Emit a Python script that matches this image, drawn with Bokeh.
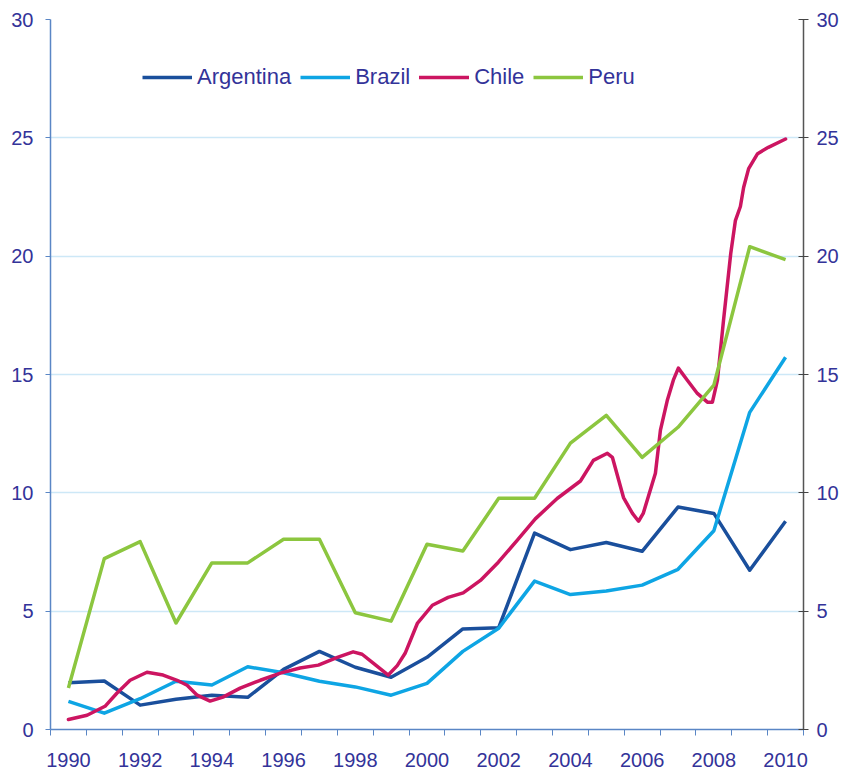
from bokeh.plotting import figure
from bokeh.models import (Range1d, LinearAxis, FixedTicker, Legend, LegendItem)
from bokeh.embed import file_html
from bokeh.resources import INLINE

# ---- data ----
years = list(range(1990, 2011))
argentina = [1.98, 2.05, 1.03, 1.28, 1.45, 1.36, 2.54, 3.30, 2.63, 2.21, 3.05, 4.25,
             4.30, 8.30, 7.60, 7.90, 7.53, 9.40, 9.13, 6.73, 8.80]
brazil = [1.19, 0.69, 1.30, 2.04, 1.88, 2.65, 2.40, 2.04, 1.80, 1.45, 1.95, 3.30,
          4.28, 6.27, 5.70, 5.85, 6.10, 6.77, 8.40, 13.40, 15.73]
peru = [1.75, 7.22, 7.94, 4.50, 7.04, 7.04, 8.04, 8.04, 4.93, 4.58, 7.83, 7.54,
        9.77, 9.77, 12.10, 13.27, 11.50, 12.77, 14.55, 20.40, 19.85]
chile_x = [1990.0, 1990.52, 1991.02, 1991.35, 1991.72, 1992.19, 1992.64, 1993.03,
           1993.31, 1993.59, 1993.95, 1994.31, 1994.79, 1995.35, 1995.91, 1996.46,
           1996.97, 1997.5, 1997.94, 1998.19, 1998.5, 1998.92, 1999.17, 1999.39,
           1999.73, 2000.15, 2000.59, 2001.01, 2001.49, 2001.99, 2002.52, 2003.02,
           2003.63, 2004.28, 2004.64, 2005.03, 2005.17, 2005.48, 2005.73, 2005.9,
           2006.03, 2006.37, 2006.51, 2006.7, 2006.87, 2007.01, 2007.26, 2007.54,
           2007.82, 2007.96, 2008.1, 2008.27, 2008.47, 2008.6, 2008.74, 2008.83,
           2008.97, 2009.22, 2009.52, 2010.0]
chile_y = [0.42, 0.60, 0.98, 1.53, 2.08, 2.42, 2.30, 2.08,
           1.87, 1.45, 1.20, 1.37, 1.75, 2.08, 2.38, 2.60,
           2.72, 3.05, 3.28, 3.18, 2.80, 2.30, 2.70, 3.22,
           4.48, 5.25, 5.58, 5.77, 6.30, 7.07, 8.00, 8.90,
           9.76, 10.50, 11.37, 11.67, 11.50, 9.80, 9.13, 8.80,
           9.13, 10.83, 12.65, 13.90, 14.76, 15.27, 14.76, 14.20,
           13.83, 13.83, 14.76, 17.30, 20.10, 21.50, 22.10, 22.90,
           23.70, 24.33, 24.60, 24.95]
series_names = ["Argentina", "Brazil", "Chile", "Peru"]
colors = ["#1a4f9c", "#0ea5e4", "#cc1561", "#8cc63f"]
x_tick_labels = list(range(1990, 2011, 2))
y_ticks = [0, 5, 10, 15, 20, 25, 30]

FONT = "Liberation Sans"
TXT = "#333399"
AXC = "#5a86c5"

p = figure(width=841, height=769, output_backend="svg", toolbar_location=None,
           x_range=Range1d(1989.5, 2010.5), y_range=Range1d(0, 30),
           y_axis_location="left", min_border_left=50, min_border_top=19,
           min_border_right=10, min_border_bottom=10)
p.outline_line_color = None
p.background_fill_color = "white"
p.border_fill_color = "white"

# x axis
xa = p.xaxis[0]
xa.ticker = FixedTicker(ticks=x_tick_labels,
                        minor_ticks=[y + 0.5 for y in range(1989, 2011)])
xa.major_tick_line_color = None
xa.minor_tick_line_color = AXC
xa.minor_tick_out = 6
xa.minor_tick_in = 0
xa.axis_line_color = AXC
xa.axis_line_width = 1.5
xa.major_label_text_font = FONT
xa.major_label_text_font_size = "20px"
xa.major_label_text_color = TXT
xa.major_label_standoff = 17

# left y axis
ya = p.yaxis[0]
ya.ticker = FixedTicker(ticks=y_ticks)
ya.axis_line_color = AXC
ya.axis_line_width = 1.5
ya.major_tick_line_color = AXC
ya.major_tick_out = 5
ya.major_tick_in = 0
ya.minor_tick_line_color = None
ya.major_label_text_font = FONT
ya.major_label_text_font_size = "20px"
ya.major_label_text_color = TXT
ya.major_label_standoff = 12

# right y axis
ra = LinearAxis(ticker=FixedTicker(ticks=y_ticks))
ra.axis_line_color = "#555555"
ra.axis_line_width = 1.5
ra.major_tick_line_color = "#444444"
ra.major_tick_out = 5
ra.major_tick_in = 5
ra.minor_tick_line_color = None
ra.major_label_text_font = FONT
ra.major_label_text_font_size = "20px"
ra.major_label_text_color = TXT
ra.major_label_standoff = 8
p.add_layout(ra, "right")

p.xgrid.grid_line_color = None
p.ygrid.ticker = FixedTicker(ticks=y_ticks)
p.ygrid.grid_line_color = "#cde8f7"
p.ygrid.grid_line_width = 1.5

lw = 3.5
r_arg = p.line(years, argentina, line_color=colors[0], line_width=lw, line_join="round")
r_bra = p.line(years, brazil, line_color=colors[1], line_width=lw, line_join="round")
r_chi = p.line(chile_x, chile_y, line_color=colors[2], line_width=lw, line_join="round",
               line_cap="round")
r_per = p.line(years, peru, line_color=colors[3], line_width=lw, line_join="round")

legend = Legend(items=[LegendItem(label=n, renderers=[r]) for n, r in
                       zip(series_names, [r_arg, r_bra, r_chi, r_per])],
                orientation="horizontal", location=(92, 639),
                padding=0, margin=0, spacing=9, label_standoff=5,
                glyph_width=50, glyph_height=20,
                border_line_color=None, background_fill_alpha=0,
                label_text_font=FONT, label_text_font_size="22px",
                label_text_color=TXT)
p.add_layout(legend)

open("out.html", "w").write(file_html(p, INLINE))
